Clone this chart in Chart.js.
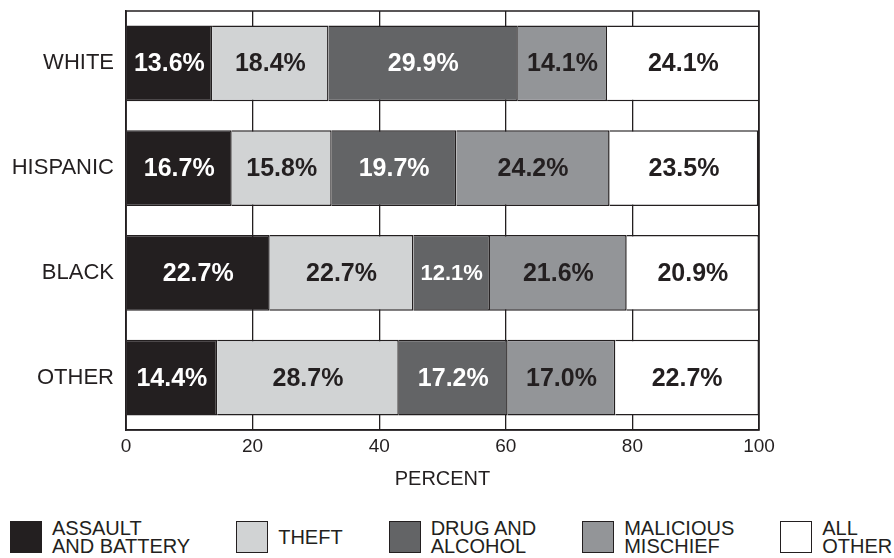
<!DOCTYPE html>
<html lang="en">
<head>
    <meta charset="UTF-8">
    <title>Offense type by race</title>
    <script src="https://cdn.jsdelivr.net/npm/chart.js"></script>
    <style>
        body {
            margin: 0;
            background: #ffffff;
            font-family: "Liberation Sans", Arial, sans-serif;
            color: #231f20;
        }
        #wrap {
            position: relative;
            width: 894px;
            height: 505px;
        }
        #legend {
            position: absolute;
            left: 10px;
            top: 519px;
            display: flex;
            align-items: center;
            gap: 46px;
        }
        .item {
            display: flex;
            align-items: center;
        }
        .swatch {
            width: 32px;
            height: 32px;
            box-sizing: border-box;
            border: 1.5px solid #231f20;
            margin-right: 10px;
        }
        .text {
            font-size: 20px;
            line-height: 18px;
            white-space: pre-line;
        }
    </style>
</head>
<body>
    <div id="wrap"><canvas id="chart"></canvas></div>
    <div id="legend"></div>

    <script>
        // categories (rows)
        const groups = ['WHITE', 'HISPANIC', 'BLACK', 'OTHER'];

        // series, in stacking order
        const seriesNames = ['ASSAULT\nAND BATTERY', 'THEFT', 'DRUG AND\nALCOHOL', 'MALICIOUS\nMISCHIEF', 'ALL\nOTHER'];
        const assault   = [13.6, 16.7, 22.7, 14.4];
        const theft     = [18.4, 15.8, 22.7, 28.7];
        const drug      = [29.9, 19.7, 12.1, 17.2];
        const mischief  = [14.1, 24.2, 21.6, 17.0];
        const allOther  = [24.1, 23.5, 20.9, 22.7];

        const fills      = ['#231f20', '#d1d3d4', '#636466', '#939598', '#ffffff'];
        const textColors = ['#ffffff', '#231f20', '#ffffff', '#231f20', '#231f20'];

        const ink = '#231f20';
        const seriesValues = [assault, theft, drug, mischief, allOther];

        // value labels inside each segment
        const segmentLabels = {
            id: 'segmentLabels',
            afterDatasetsDraw(chart) {
                const ctx = chart.ctx;
                ctx.save();
                ctx.textAlign = 'center';
                ctx.textBaseline = 'middle';
                chart.data.datasets.forEach((ds, i) => {
                    const meta = chart.getDatasetMeta(i);
                    meta.data.forEach((bar, j) => {
                        const v = ds.data[j];
                        const size = v < 13 ? 22 : 25;
                        ctx.font = 'bold ' + size + 'px "Liberation Sans", Arial, sans-serif';
                        ctx.fillStyle = textColors[i];
                        const p = bar.getCenterPoint();
                        ctx.fillText(v.toFixed(1) + '%', p.x, p.y + 1);
                    });
                });
                ctx.restore();
            }
        };

        // box around the plot area
        const plotFrame = {
            id: 'plotFrame',
            afterDraw(chart) {
                const a = chart.chartArea;
                const ctx = chart.ctx;
                ctx.save();
                ctx.strokeStyle = ink;
                ctx.lineWidth = 1.5;
                ctx.strokeRect(a.left, a.top, a.right - a.left, a.bottom - a.top);
                ctx.restore();
            }
        };

        const chart = new Chart(document.getElementById('chart'), {
            type: 'bar',
            data: {
                labels: groups,
                datasets: seriesNames.map((name, i) => ({
                    label: name,
                    data: seriesValues[i],
                    backgroundColor: fills[i],
                    borderColor: ink,
                    borderWidth: 1.5,
                    barPercentage: 0.725,
                    categoryPercentage: 1
                }))
            },
            options: {
                indexAxis: 'y',
                responsive: true,
                maintainAspectRatio: false,
                animation: false,
                layout: { padding: { top: 11, right: 135, bottom: 0, left: 0 } },
                plugins: {
                    legend: { display: false },
                    tooltip: { enabled: false }
                },
                scales: {
                    x: {
                        stacked: true,
                        min: 0,
                        max: 100,
                        ticks: {
                            stepSize: 20,
                            color: ink,
                            padding: 5,
                            font: { size: 19, family: '"Liberation Sans", Arial, sans-serif' }
                        },
                        grid: { color: ink, lineWidth: 1.3, drawTicks: false },
                        border: { color: ink, width: 1.5 },
                        title: {
                            display: true,
                            text: 'PERCENT',
                            color: ink,
                            padding: { top: 0, bottom: 14 },
                            font: { size: 20, family: '"Liberation Sans", Arial, sans-serif' }
                        },
                        afterFit(scale) { scale.height = 75; }
                    },
                    y: {
                        stacked: true,
                        ticks: {
                            color: ink,
                            padding: 12,
                            font: { size: 22, family: '"Liberation Sans", Arial, sans-serif' }
                        },
                        grid: { display: false, drawTicks: false },
                        border: { color: ink, width: 1.5 },
                        afterFit(scale) {
                            scale.width = 126;
                            scale.paddingTop = 0;
                            scale.paddingBottom = 0;
                        }
                    }
                }
            },
            plugins: [segmentLabels, plotFrame]
        });

        // legend below the chart
        const legend = document.getElementById('legend');
        seriesNames.forEach((name, i) => {
            const item = document.createElement('div');
            item.className = 'item';
            const sw = document.createElement('div');
            sw.className = 'swatch';
            sw.style.background = fills[i];
            const tx = document.createElement('div');
            tx.className = 'text';
            tx.textContent = name;
            item.appendChild(sw);
            item.appendChild(tx);
            legend.appendChild(item);
        });
    </script>
</body>
</html>
